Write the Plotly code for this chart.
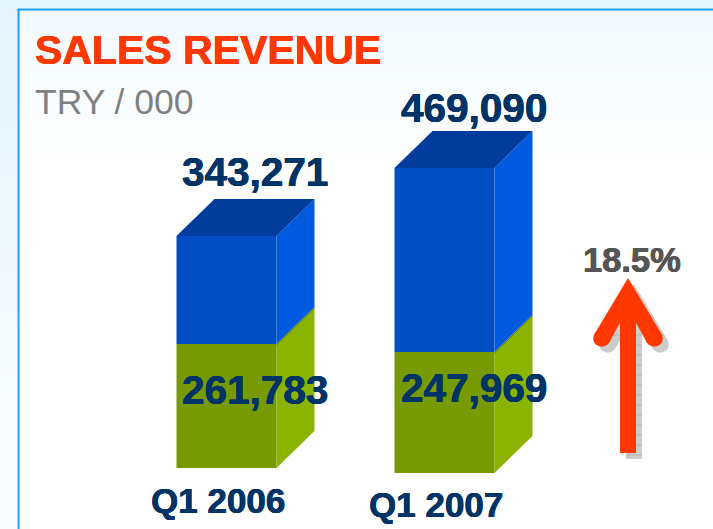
import plotly.graph_objects as go

# ---------- data ----------
categories = ["Q1 2006", "Q1 2007"]
green_labels = ["261,783", "247,969"]
total_labels = ["343,271", "469,090"]
growth_label = "18.5%"
title = "SALES REVENUE"
subtitle = "TRY / 000"
# drawn segment heights as they appear in the picture (the drawing is not to scale)
green_heights = [124, 121]
blue_heights = [108, 184]
bar_bases = [0, -5]

# ---------- layout and style ----------
W, H = 713, 529
BASE_PX = 468            # pixel row of value 0
bar_centers = [226.5, 444.5]
BAR_W = 100
DX, DY = 38, 37          # depth of the pseudo-3D faces
NAVY = "#003366"
RED = "#ff3800"
BLUE_FRONT, BLUE_SIDE, BLUE_TOP = "#004ec4", "#005ae0", "#003c9c"
GREEN_FRONT, GREEN_SIDE, GREEN_TOP = "#769a00", "#8ab400", "#5f7c00"


def py(px):
    """pixel row -> value on the y axis"""
    return BASE_PX - px


def poly(xs, ys, color, pattern=None):
    return go.Scatter(x=xs, y=ys, mode="lines", fill="toself", fillcolor=color,
                      fillpattern=pattern,
                      line=dict(width=0, color=color), hoverinfo="skip", showlegend=False)


def mix(a, b, t):
    return tuple(round(a[i] + (b[i] - a[i]) * t) for i in range(3))


fig = go.Figure()

# front faces
g_base = bar_bases
b_base = [b + g for b, g in zip(bar_bases, green_heights)]
fig.add_trace(go.Bar(x=bar_centers, y=green_heights, base=g_base, width=BAR_W,
                     marker=dict(color=GREEN_FRONT, line=dict(width=0)), showlegend=False))
fig.add_trace(go.Bar(x=bar_centers, y=blue_heights, base=b_base, width=BAR_W,
                     marker=dict(color=BLUE_FRONT, line=dict(width=0)), showlegend=False))

# side and top faces, derived from the same values
for c, g0, gh, bh in zip(bar_centers, g_base, green_heights, blue_heights):
    r = c + BAR_W / 2
    l = c - BAR_W / 2
    g1 = g0 + gh
    b1 = g1 + bh
    fig.add_trace(poly([r, r + DX, r + DX, r, r], [g0, g0 + DY, g1 + DY, g1, g0], GREEN_SIDE))
    fig.add_trace(poly([r, r + DX, r + DX, r, r], [g1, g1 + DY, b1 + DY, b1, g1], BLUE_SIDE))
    fig.add_trace(poly([l, l + DX, r + DX, r, l], [b1, b1 + DY, b1 + DY, b1, b1], BLUE_TOP))
    # thin seam where the green block meets the blue one
    fig.add_trace(go.Scatter(x=[r, r + DX], y=[g1 - 1, g1 + DY - 1], mode="lines",
                             line=dict(color=GREEN_TOP, width=1), hoverinfo="skip", showlegend=False))

# growth arrow and its shadow
AX = 628
arrow_x = [0, -33.5, -19, -8, -8, 8, 8, 19, 33.5, 0]
arrow_y = [278, 334, 343, 322.5, 453, 453, 322.5, 343, 334, 278]
blob_x = [-26.3, 26.3]
blob_y = [338.3, 338.3]
hatch = dict(shape="-", size=10, solidity=0.12, fgcolor="#a2a2a2", bgcolor="#cccccc")
for off, col, pat in ((6, "#cccccc", hatch), (0, RED, None)):
    fig.add_trace(poly([AX + v + off for v in arrow_x], [py(v + off) for v in arrow_y], col, pat))
    fig.add_trace(go.Scatter(x=[AX + v + off for v in blob_x], y=[py(v + off) for v in blob_y],
                             mode="markers", marker=dict(size=17, color=col, line=dict(width=0)),
                             hoverinfo="skip", showlegend=False))

# background gradient and panel border
shapes = []
outer_top, inner_top, white = (228, 244, 255), (241, 249, 255), (255, 255, 255)
STEP, FADE = 4, 170
for yy in range(0, H, STEP):
    t = min(yy / FADE, 1)
    oc = mix(outer_top, (248, 252, 255), min(yy / 400, 1))
    ic = mix(inner_top, white, t)
    shapes.append(dict(type="rect", xref="x", yref="y", layer="below", x0=0, x1=18,
                       y0=py(yy), y1=py(yy + STEP), fillcolor=f"rgb{oc}", line=dict(width=0)))
    shapes.append(dict(type="rect", xref="x", yref="y", layer="below", x0=18, x1=W,
                       y0=py(yy), y1=py(yy + STEP),
                       fillcolor=f"rgb{ic if yy >= 9 else outer_top}", line=dict(width=0)))
shapes.append(dict(type="rect", xref="x", yref="y", layer="below", x0=0, x1=W,
                   y0=py(0), y1=py(9), fillcolor=f"rgb{outer_top}", line=dict(width=0)))
shapes.append(dict(type="line", xref="x", yref="y", layer="below", x0=18.5, x1=18.5,
                   y0=py(9), y1=py(H), line=dict(color="#1ea4ff", width=2)))
shapes.append(dict(type="line", xref="x", yref="y", layer="below", x0=17.5, x1=W,
                   y0=py(9.5), y1=py(9.5), line=dict(color="#1ea4ff", width=2)))


def label(x, y, text, size, color, bold=True, anchor="center"):
    sh = f"0.35px 0 0 {color}, -0.35px 0 0 {color}, 0 0.3px 0 {color}" if bold else "none"
    fig.add_annotation(x=x, y=py(y), text=f"<b>{text}</b>" if bold else text, showarrow=False,
                       xref="x", yref="y", xanchor=anchor, yanchor="middle",
                       font=dict(family="Liberation Sans", size=size, color=color, shadow=sh))


label(33, 50, title, 41, RED, anchor="left")
label(33, 102, subtitle, 35.5, "#808080", bold=False, anchor="left")
label(254.5, 172, total_labels[0], 40.5, NAVY)
label(473.5, 108, total_labels[1], 40.5, NAVY)
label(254.5, 389.5, green_labels[0], 40.5, NAVY)
label(473.5, 387.5, green_labels[1], 40.5, NAVY)
label(217.5, 500, categories[0], 35, NAVY)
label(435.5, 504, categories[1], 35, NAVY)
label(631.5, 260, growth_label, 34.5, "#555555")

fig.update_layout(width=W, height=H, margin=dict(l=0, r=0, t=0, b=0),
                  paper_bgcolor="white", plot_bgcolor="rgba(0,0,0,0)", showlegend=False,
                  barmode="overlay", shapes=shapes,
                  xaxis=dict(range=[0, W], visible=False, fixedrange=True),
                  yaxis=dict(range=[py(H), py(0)], visible=False, fixedrange=True))

fig.write_html("out.html", config=dict(displayModeBar=False),
               post_script="document.body.style.margin='0';document.documentElement.style.overflow='hidden';")
